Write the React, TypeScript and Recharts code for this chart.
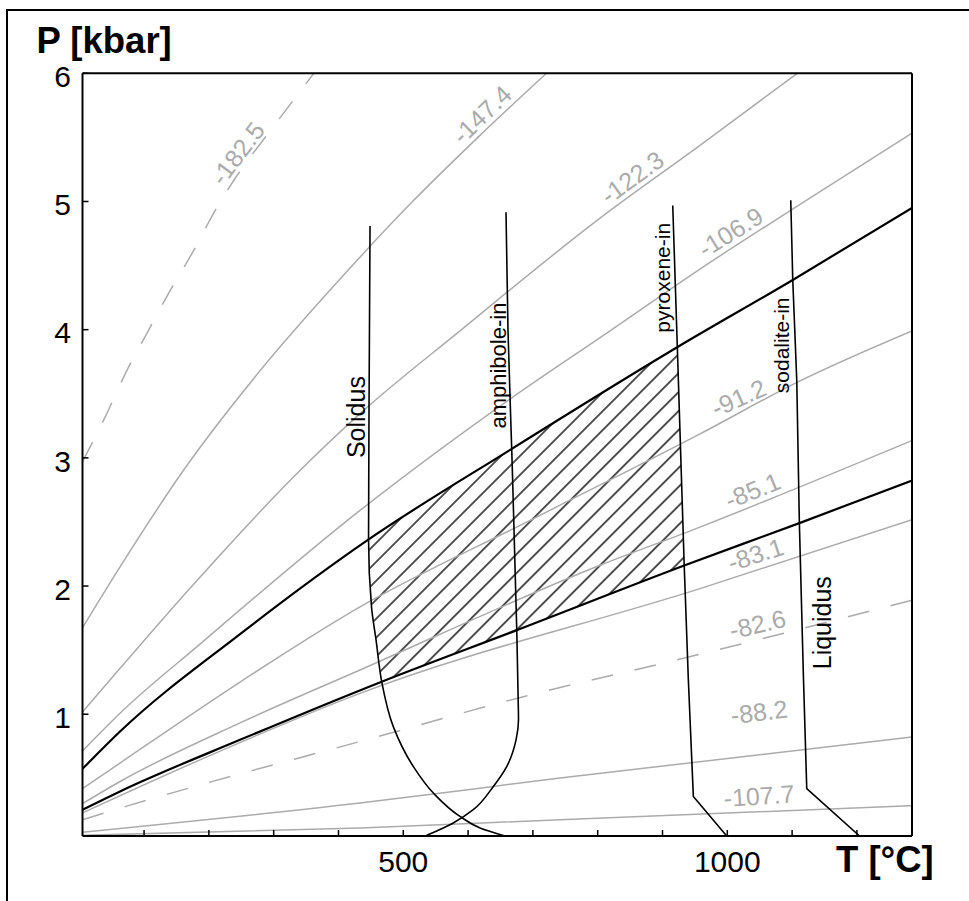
import React from 'react';
import { ComposedChart, Line, Area, XAxis, YAxis, ReferenceDot } from 'recharts';

type Pt = { T: number; P: number };

// ---- axes ----
const xTicks = [100, 200, 300, 400, 500, 600, 700, 800, 900, 1000, 1100, 1200];
const xTickLabels = [500, 1000];
const yTicks = [1, 2, 3, 4, 5, 6];
const yTicksRight = [1, 2, 3, 4, 5];
const xDomain: [number, number] = [5, 1285];
const yDomain: [number, number] = [0.05, 6];

// ---- grey isopleths (T in °C, P in kbar) ----
const iso_182_5: Pt[] = [
  { T: 5, P: 2.97 }, { T: 39.7, P: 3.316 }, { T: 73.2, P: 3.679 }, { T: 106.5, P: 3.991 },
  { T: 140, P: 4.302 }, { T: 176, P: 4.613 }, { T: 212, P: 4.95 }, { T: 248, P: 5.236 },
  { T: 294, P: 5.547 }, { T: 340.6, P: 5.858 }, { T: 362, P: 6.0 },
];
const iso_147_4: Pt[] = [
  { T: 5, P: 1.674 }, { T: 62.9, P: 2.149 }, { T: 160.6, P: 2.901 }, { T: 278.9, P: 3.679 },
  { T: 402.4, P: 4.395 }, { T: 515, P: 5.003 }, { T: 618.4, P: 5.516 }, { T: 721, P: 6.0 },
];
const iso_122_3: Pt[] = [
  { T: 5, P: 1.018 }, { T: 62.9, P: 1.358 }, { T: 170.9, P: 1.983 }, { T: 340.6, P: 2.901 },
  { T: 433.2, P: 3.345 }, { T: 587.5, P: 3.991 }, { T: 803.6, P: 4.87 }, { T: 957.9, P: 5.438 },
  { T: 1108, P: 6.0 },
];
const iso_106_9: Pt[] = [
  { T: 5, P: 0.714 }, { T: 62.9, P: 1.008 }, { T: 186.3, P: 1.547 }, { T: 433.2, P: 2.59 },
  { T: 664.7, P: 3.459 }, { T: 819, P: 3.991 }, { T: 957.9, P: 4.473 }, { T: 1112.2, P: 4.977 },
  { T: 1285, P: 5.534 },
];
const iso_91_2: Pt[] = [
  { T: 5, P: 0.419 }, { T: 62.9, P: 0.619 }, { T: 248.1, P: 1.251 }, { T: 433.2, P: 1.837 },
  { T: 695.6, P: 2.512 }, { T: 957.9, P: 3.187 }, { T: 1112.2, P: 3.601 }, { T: 1285, P: 3.991 },
];
const iso_85_1: Pt[] = [
  { T: 5, P: 0.302 }, { T: 62.9, P: 0.475 }, { T: 248.1, P: 0.932 }, { T: 433.2, P: 1.345 },
  { T: 803.6, P: 2.162 }, { T: 957.9, P: 2.46 }, { T: 1285, P: 3.135 },
];
const iso_83_1: Pt[] = [
  { T: 5, P: 0.23 }, { T: 186.3, P: 0.644 }, { T: 433.2, P: 1.163 }, { T: 957.9, P: 1.98 },
  { T: 1285, P: 2.518 },
];
const iso_82_6: Pt[] = [
  { T: 5, P: 0.177 }, { T: 70.6, P: 0.279 }, { T: 196.7, P: 0.463 }, { T: 433.2, P: 0.787 },
  { T: 685.3, P: 1.137 }, { T: 932.2, P: 1.436 }, { T: 1285, P: 1.889 },
];
const iso_88_2: Pt[] = [
  { T: 5, P: 0.079 }, { T: 433.2, P: 0.307 }, { T: 741.9, P: 0.502 }, { T: 1285, P: 0.823 },
];
const iso_107_7: Pt[] = [
  { T: 5, P: 0.055 }, { T: 433.2, P: 0.113 }, { T: 741.9, P: 0.177 }, { T: 1285, P: 0.286 },
];

// ---- black reaction curves ----
const upperBoundary: Pt[] = [
  { T: 5, P: 0.574 }, { T: 62.9, P: 0.865 }, { T: 248.1, P: 1.625 }, { T: 446, P: 2.362 },
  { T: 667.3, P: 3.07 }, { T: 922, P: 3.861 }, { T: 1101, P: 4.388 }, { T: 1285, P: 4.95 },
];
const lowerBoundary: Pt[] = [
  { T: 5, P: 0.255 }, { T: 62.9, P: 0.398 }, { T: 248.1, P: 0.8 }, { T: 466.7, P: 1.254 },
  { T: 675.1, P: 1.656 }, { T: 933.5, P: 2.16 }, { T: 1111.2, P: 2.491 }, { T: 1285, P: 2.823 },
];
const solidus: Pt[] = [
  { T: 448.7, P: 4.808 }, { T: 447.2, P: 3.446 }, { T: 446.4, P: 2.364 }, { T: 451, P: 1.835 },
  { T: 458, P: 1.578 }, { T: 466.7, P: 1.254 }, { T: 484.6, P: 0.903 }, { T: 515.5, P: 0.592 },
  { T: 546.4, P: 0.385 }, { T: 587.5, P: 0.203 }, { T: 618.4, P: 0.113 }, { T: 657, P: 0.05 },
];
const amphiboleIn: Pt[] = [
  { T: 658.5, P: 4.916 }, { T: 661.6, P: 3.991 }, { T: 667.3, P: 3.07 }, { T: 675.1, P: 1.656 },
  { T: 677.5, P: 1.059 }, { T: 677.8, P: 0.956 }, { T: 674, P: 0.8 }, { T: 659.6, P: 0.592 },
  { T: 639, P: 0.437 }, { T: 608, P: 0.255 }, { T: 577.2, P: 0.152 }, { T: 536.2, P: 0.055 },
];
const pyroxeneIn: Pt[] = [
  { T: 915.8, P: 4.969 }, { T: 922.9, P: 3.861 }, { T: 933.5, P: 2.16 }, { T: 939.9, P: 1.267 },
  { T: 947.6, P: 0.359 }, { T: 999.1, P: 0.05 },
];
const sodaliteIn: Pt[] = [
  { T: 1097.9, P: 5.01 }, { T: 1101, P: 4.388 }, { T: 1107.2, P: 3.602 }, { T: 1111.2, P: 2.491 },
  { T: 1117.3, P: 1.319 }, { T: 1122.6, P: 0.419 }, { T: 1204.1, P: 0.05 },
];

// ---- hatched field [low, high] ----
const hatchField = [
  { T: 446.4, range: [2.364, 2.364] },
  { T: 451, range: [1.835, 2.379] },
  { T: 458, range: [1.578, 2.401] },
  { T: 466.7, range: [1.254, 2.429] },
  { T: 560, range: [1.434, 2.728] },
  { T: 667.3, range: [1.64, 3.07] },
  { T: 800, range: [1.9, 3.483] },
  { T: 922.9, range: [2.139, 3.861] },
  { T: 933.5, range: [2.16, 2.16] },
];

// ---- labels ----
const isoLabels = [
  { text: '-182.5', T: 244.2, P: 5.376 },
  { text: '-147.4', T: 621, P: 5.679 },
  { text: '-122.3', T: 853, P: 5.189 },
  { text: '-106.9', T: 1005, P: 4.761 },
  { text: '-91.2', T: 1017.3, P: 3.469 },
  { text: '-85.1', T: 1039, P: 2.746 },
  { text: '-83.1', T: 1043.6, P: 2.247 },
  { text: '-82.6', T: 1046.7, P: 1.703 },
  { text: '-88.2', T: 1049, P: 1.018 },
  { text: '-107.7', T: 1049, P: 0.364 },
];
const isoLabelAngle: Record<string, number> = {
  '-182.5': -53, '-147.4': -44, '-122.3': -36, '-106.9': -32, '-91.2': -24,
  '-85.1': -22, '-83.1': -18, '-82.6': -13, '-88.2': -7, '-107.7': -4,
};
const curveLabels = [
  { text: 'Solidus', T: 426.3, P: 3.318 },
  { text: 'amphibole-in', T: 647.7, P: 3.72 },
  { text: 'pyroxene-in', T: 900, P: 4.405 },
  { text: 'sodalite-in', T: 1082.9, P: 3.878 },
  { text: 'Liquidus', T: 1145.7, P: 1.714 },
];
const curveLabelSize: Record<string, number> = {
  Solidus: 25, 'amphibole-in': 22, 'pyroxene-in': 21, 'sodalite-in': 21, Liquidus: 25,
};

const FONT = '"Liberation Sans", Arial, Helvetica, sans-serif';
const GRAY = '#ababab';

const greySolid = [iso_147_4, iso_122_3, iso_106_9, iso_91_2, iso_85_1, iso_83_1, iso_88_2, iso_107_7];
const greyDashed = [iso_182_5, iso_82_6];

function textShape(text: string, angle: number, color: string, size: number) {
  return (props: any) => {
    const { cx, cy } = props;
    if (cx == null || cy == null) return <g />;
    return (
      <text
        x={cx}
        y={cy}
        transform={`rotate(${angle} ${cx} ${cy})`}
        textAnchor="middle"
        dominantBaseline="central"
        fill={color}
        fontSize={size}
        fontFamily={FONT}
      >
        {text}
      </text>
    );
  };
}

export default function App() {
  const axisLine = { stroke: '#000', strokeWidth: 2 };
  const tickLine = { stroke: '#000', strokeWidth: 1.5 };
  return (
    <div style={{ position: 'absolute', left: 0, top: 0, width: 969, height: 901, overflow: 'hidden', background: '#fff' }}>
      <div
        style={{
          position: 'absolute', left: 6.3, top: 9, width: 1200, height: 1200,
          borderLeft: '2px solid #000', borderTop: '2px solid #000', boxSizing: 'border-box',
        }}
      />
      <div style={{ position: 'absolute', left: 0, top: 0 }}>
        <ComposedChart width={969} height={901} margin={{ top: 72.3, right: 56, bottom: 15, left: 22.5 }}>
          <defs>
            <pattern id="hatch" patternUnits="userSpaceOnUse" width="13.4" height="13.4" patternTransform="rotate(45)">
              <line x1="6.7" y1="-1" x2="6.7" y2="14.4" stroke="#000" strokeWidth="1.35" />
            </pattern>
          </defs>
          <XAxis
            xAxisId={0}
            type="number"
            dataKey="T"
            domain={xDomain}
            ticks={xTicks}
            interval={0}
            allowDataOverflow
            orientation="bottom"
            height={50}
            tickSize={-6}
            tickMargin={21}
            tickFormatter={(v: number) => (xTickLabels.includes(v) ? String(v) : '')}
            axisLine={axisLine}
            tickLine={tickLine}
            tick={{ fill: '#000', fontSize: 30, fontFamily: FONT }}
          />
          <XAxis
            xAxisId="top"
            type="number"
            domain={xDomain}
            ticks={xTicks}
            interval={0}
            allowDataOverflow
            orientation="top"
            height={1}
            tickSize={-6}
            tick={false}
            axisLine={axisLine}
            tickLine={tickLine}
          />
          <YAxis
            yAxisId={0}
            type="number"
            domain={yDomain}
            ticks={yTicks}
            interval={0}
            allowDataOverflow
            width={60}
            tickSize={-6}
            tickMargin={17.5}
            axisLine={axisLine}
            tickLine={tickLine}
            tick={{ fill: '#000', fontSize: 30, fontFamily: FONT, dy: 3 }}
          />
          <YAxis
            yAxisId="right"
            type="number"
            domain={yDomain}
            ticks={yTicksRight}
            interval={0}
            allowDataOverflow
            orientation="right"
            width={1}
            tickSize={-6}
            tick={false}
            axisLine={axisLine}
            tickLine={tickLine}
          />

          <Area
            data={hatchField}
            dataKey="range"
            type="linear"
            stroke="none"
            fill="url(#hatch)"
            fillOpacity={1}
            isAnimationActive={false}
            activeDot={false}
            dot={false}
          />

          {greySolid.map((d, i) => (
            <Line key={'gs' + i} data={d} dataKey="P" type="monotone" stroke={GRAY} strokeWidth={1.5}
              dot={false} activeDot={false} isAnimationActive={false} />
          ))}
          {greyDashed.map((d, i) => (
            <Line key={'gd' + i} data={d} dataKey="P" type="monotone" stroke={GRAY} strokeWidth={1.5}
              strokeDasharray="22 22" dot={false} activeDot={false} isAnimationActive={false} />
          ))}

          <Line data={upperBoundary} dataKey="P" type="monotone" stroke="#000" strokeWidth={2.2}
            dot={false} activeDot={false} isAnimationActive={false} />
          <Line data={lowerBoundary} dataKey="P" type="monotone" stroke="#000" strokeWidth={2.2}
            dot={false} activeDot={false} isAnimationActive={false} />
          <Line data={solidus} dataKey="P" type="monotoneY" stroke="#000" strokeWidth={1.6}
            dot={false} activeDot={false} isAnimationActive={false} />
          <Line data={amphiboleIn} dataKey="P" type="monotoneY" stroke="#000" strokeWidth={1.6}
            dot={false} activeDot={false} isAnimationActive={false} />
          <Line data={pyroxeneIn} dataKey="P" type="linear" stroke="#000" strokeWidth={1.6}
            dot={false} activeDot={false} isAnimationActive={false} />
          <Line data={sodaliteIn} dataKey="P" type="linear" stroke="#000" strokeWidth={1.6}
            dot={false} activeDot={false} isAnimationActive={false} />

          {isoLabels.map((l) => (
            <ReferenceDot key={l.text} x={l.T} y={l.P} r={0} ifOverflow="visible"
              shape={textShape(l.text, isoLabelAngle[l.text], GRAY, 25)} />
          ))}
          {curveLabels.map((l) => (
            <ReferenceDot key={l.text} x={l.T} y={l.P} r={0} ifOverflow="visible"
              shape={textShape(l.text, -90, '#000', curveLabelSize[l.text])} />
          ))}

          <text x={36.5} y={53.3} fontSize={36.5} fontWeight="bold" fontFamily={FONT} fill="#000">P [kbar]</text>
          <text x={836} y={871.7} fontSize={36.5} fontWeight="bold" fontFamily={FONT} fill="#000">T [°C]</text>
        </ComposedChart>
      </div>
    </div>
  );
}
